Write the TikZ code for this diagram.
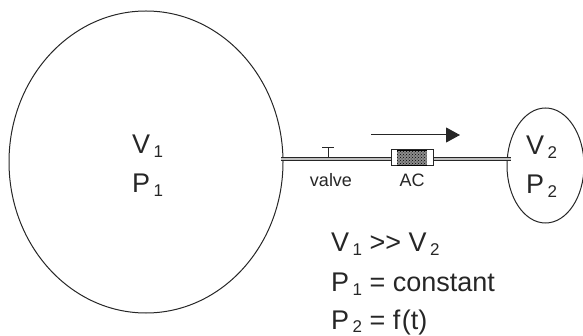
\documentclass[tikz,border=0pt]{standalone}
\usepackage{fontspec}
\setmainfont{Liberation Sans}
\usetikzlibrary{arrows.meta, patterns, shapes.geometric}
\newcommand{\lowidx}[1]{\kern3.5pt\raisebox{-3.5pt}{\fontsize{17}{17}\selectfont #1}}
\begin{document}
\begin{tikzpicture}[
      x=1pt, y=-1pt,
      vessel/.style={draw=black!85, ellipse, inner sep=0pt, line width=1pt},
      tubewall/.style={line width=1pt, draw=black!85},
      tubecore/.style={line width=3pt, draw=black!25},
      big/.style={font=\fontsize{27}{27}\selectfont, anchor=base west, inner sep=0pt, text=black!85},
      small/.style={font=\fontsize{18}{18}\selectfont, anchor=base, inner sep=0pt, text=black!85}
    ]
    \useasboundingbox (0,0) rectangle (583,336);

    \node[vessel, minimum width=274pt, minimum height=302pt] (vone) at (146,162) {};
    \node[vessel, minimum width=77pt, minimum height=115pt] (vtwo) at (545.5,165.5) {};
    \coordinate (tubeleft) at (281,159);
    \coordinate (tuberight) at (511,159);
    \draw[tubecore] (tubeleft) -- (tuberight);
    \draw[tubewall] ([yshift=1.9pt]tubeleft) -- ([yshift=1.9pt]tuberight);
    \draw[tubewall] ([yshift=-1.9pt]tubeleft) -- ([yshift=-1.9pt]tuberight);

    % valve
    \coordinate (stembot) at (328,157);
    \coordinate (stemtop) at (328,148);
    \coordinate (capleft) at (322,148);
    \coordinate (capright) at (334,148);
    \draw[line width=1pt, black!85] (stembot) -- (stemtop);
    \draw[line width=1pt, black!85] (capleft) -- (capright);
    \node[small] (valvelabel) at (331,187) {valve};

    % adsorbent column
    \node[draw=black!85, fill=white, line width=1pt, minimum width=42pt, minimum height=16pt, inner sep=0pt] (ac) at (412,158) {};
    \node[fill=black!45, minimum width=30pt, minimum height=15pt, inner sep=0pt] (bedfill) at (412,158) {};
    \node[pattern=crosshatch dots, pattern color=black, minimum width=30pt, minimum height=15pt, inner sep=0pt] (bed) at (412,158) {};
    \draw[line width=1.4pt] (bed.north west) -- (bed.north east);
    \draw[line width=1.4pt] (bed.south west) -- (bed.south east);
    \node[small] (aclabel) at (412,187) {AC};

    % flow
    \coordinate (flowa) at (371,135);
    \coordinate (flowb) at (460,135);
    \draw[-{Triangle[length=14pt, width=15pt]}, line width=1pt, black!85] (flowa) -- (flowb);

    \node[big] (vonelabel) at (132,154) {V\lowidx{1}};
    \node[big] (ponelabel) at (132,193) {P\lowidx{1}};
    \node[big] (vtwolabel) at (526,155) {V\lowidx{2}};
    \node[big] (ptwolabel) at (526,194) {P\lowidx{2}};

    \node[big] (ratio) at (331,252) {V\lowidx{1} {>}{>} V\lowidx{2}};
    \node[big] (pconst) at (331,292) {P\lowidx{1} = constant};
    \node[big] (pfunc) at (331,329) {P\lowidx{2} = f\kern1.5pt(t)};
  \end{tikzpicture}
\end{document}
